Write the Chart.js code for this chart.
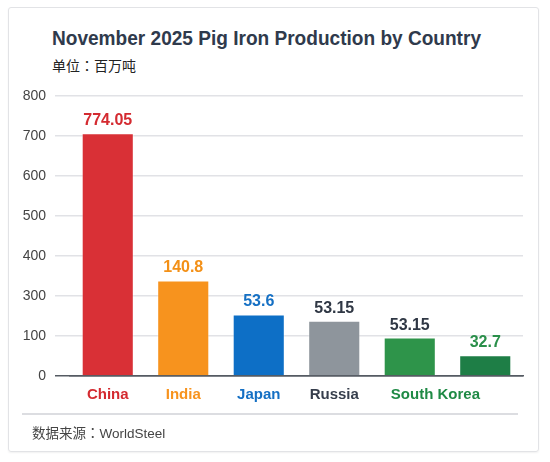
<!DOCTYPE html>
<html>
<head>
<meta charset="utf-8">
<script src="https://cdn.jsdelivr.net/npm/chart.js@4"></script>
<style>
    html, body { margin: 0; padding: 0; background: #fff; }
    body { width: 550px; height: 462px; position: relative; overflow: hidden; }
    .card { position: absolute; left: 8px; top: 7px; width: 529px; height: 443px; border: 1.5px solid #e2e3e6; border-radius: 3px; box-shadow: 0 1px 2px rgba(0,0,0,0.06); }
    .title { position: absolute; left: 52px; top: 27px; font: bold 21px/21px "Liberation Sans", sans-serif; color: #2f3a4c; white-space: nowrap; transform-origin: 0 50%; }
    .subtitle { position: absolute; left: 52px; top: 58px; font: 14px/14px "Noto Sans CJK SC", sans-serif; color: #222; white-space: nowrap; }
    .colon { font-family: "Noto Sans CJK TC", sans-serif; }
    .sep { position: absolute; left: 22px; top: 413px; width: 496px; height: 1.5px; background: #dcdde1; }
    .footer { position: absolute; left: 32px; top: 425px; font: 13.5px/14px "Liberation Sans", "Noto Sans CJK SC", sans-serif; color: #444; white-space: nowrap; }
    .chart-box { position: absolute; left: 0; top: 0; width: 550px; height: 462px; }
</style>
</head>
<body>
<div class="card"></div>
<div class="title" id="title">November 2025 Pig Iron Production by Country</div>
<div class="subtitle">单位<span class="colon">：</span>百万吨</div>
<div class="chart-box"><canvas id="chart"></canvas></div>
<div class="sep"></div>
<div class="footer">数据来源<span class="colon">：</span>WorldSteel</div>

<script>
// tick labels as printed on the y axis (evenly spaced, 200 is skipped)
const yTicks = [0, 100, 300, 400, 500, 600, 700, 800];

// six bars, five country names (South Korea sits under the last two)
const countries = ['China', 'India', 'Japan', 'Russia', 'South Korea'];
const barValues = [707, 339, 208, 176, 96, 52];         // bar heights read against the y axis
const valueLabels = ['774.05', '140.8', '53.6', '53.15', '53.15', '32.7'];

const barColors = ['#d93036', '#f7931e', '#0d6fc6', '#8e959c', '#2e944a', '#1e7e46'];
const valueColors = ['#d42a30', '#f39017', '#1570c4', '#2f3744', '#2f3744', '#2a8f4a'];
const countryColors = ['#d42a30', '#f7931e', '#1570c4', '#363e4c', '#1f8a45'];

// the reference title is set in a narrower face; squeeze ours to the same width
const title = document.getElementById('title');
title.style.transform = `scaleX(${429 / title.getBoundingClientRect().width})`;

// map a value onto the evenly spaced tick slots
const toAxis = (v) => {
    for (let i = 0; i < yTicks.length - 1; i++) {
        if (v <= yTicks[i + 1]) return i + (v - yTicks[i]) / (yTicks[i + 1] - yTicks[i]);
    }
    return yTicks.length - 1;
};

const valueLabelPlugin = {
    id: 'valueLabels',
    afterDatasetsDraw(chart) {
        const { ctx } = chart;
        const meta = chart.getDatasetMeta(0);
        ctx.save();
        ctx.font = 'bold 16px "Liberation Sans", sans-serif';
        ctx.textAlign = 'center';
        ctx.textBaseline = 'middle';
        meta.data.forEach((bar, i) => {
            ctx.fillStyle = valueColors[i];
            ctx.fillText(valueLabels[i], bar.x, bar.y - 12.5);
        });
        ctx.restore();
    },
};

const countryLabelPlugin = {
    id: 'countryLabels',
    afterDraw(chart) {
        const { ctx, chartArea } = chart;
        const x = chart.scales.x;
        ctx.save();
        ctx.font = 'bold 15px "Liberation Sans", sans-serif';
        ctx.textAlign = 'center';
        ctx.textBaseline = 'middle';
        countries.forEach((name, i) => {
            // last name is centred between the last two bars, nudged left
            const px = i < 4 ? x.getPixelForValue(i)
                : x.getPixelForValue(4) + (x.getPixelForValue(5) - x.getPixelForValue(4)) * 0.34;
            ctx.fillStyle = countryColors[i];
            ctx.fillText(name, px, chartArea.bottom + 19);
        });
        ctx.restore();
    },
};

new Chart(document.getElementById('chart'), {
    type: 'bar',
    data: {
        labels: barValues.map((_, i) => i),
        datasets: [{
            data: barValues.map(toAxis),
            backgroundColor: barColors,
            borderColor: 'rgba(255,255,255,0.35)',
            borderWidth: 1,
            barPercentage: 0.69,
            categoryPercentage: 1,
        }],
    },
    options: {
        responsive: true, maintainAspectRatio: false, animation: false,
        layout: { padding: { top: 96, right: 27, bottom: 86, left: 0 } },
        plugins: { legend: { display: false }, tooltip: { enabled: false } },
        scales: {
            x: {
                grid: { display: false },
                ticks: { display: false },
                border: { display: true, color: '#555b63', width: 1.5 },
                afterFit: (s) => { s.height = 0; },
            },
            y: {
                min: 0, max: yTicks.length - 1,
                afterFit: (s) => { s.width = 70; },
                afterBuildTicks: (s) => { s.ticks = yTicks.map((_, i) => ({ value: i })); },
                ticks: {
                    stepSize: 1, padding: 9, color: '#444',
                    font: { family: '"Liberation Sans", sans-serif', size: 14 },
                    callback: (v) => yTicks[v],
                },
                grid: {
                    color: (c) => c.tick && c.tick.value === 0 ? '#555b63' : '#e1e2e6',
                    lineWidth: 1.5, tickLength: 15,
                },
                border: { display: false },
            },
        },
    },
    plugins: [valueLabelPlugin, countryLabelPlugin],
});
</script>
</body>
</html>
